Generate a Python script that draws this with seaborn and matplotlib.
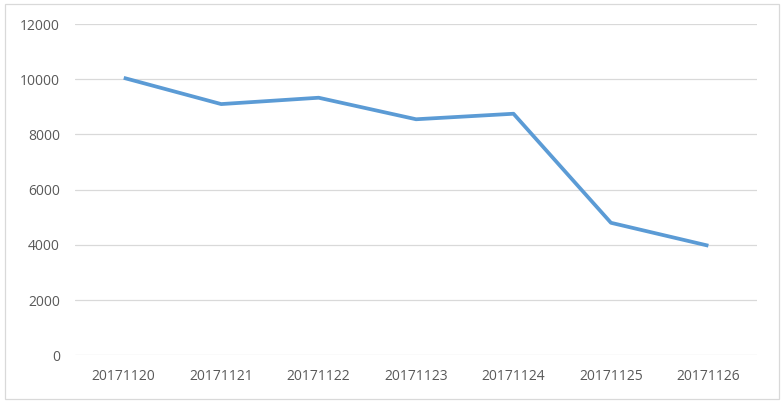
import matplotlib
matplotlib.use("Agg")
import matplotlib.pyplot as plt
from matplotlib.patches import Rectangle
import pandas as pd
import seaborn as sns

dates = ["20171120", "20171121", "20171122", "20171123", "20171124", "20171125", "20171126"]
values = [10050, 9100, 9330, 8550, 8750, 4800, 3970]
y_ticks = [0, 2000, 4000, 6000, 8000, 10000, 12000]

df = pd.DataFrame({"date": dates, "value": values})

sns.set_theme(style="white")
plt.rcParams["font.family"] = ["Open Sans", "DejaVu Sans"]

fig = plt.figure(figsize=(7.84, 4.05), dpi=100)
ax = fig.add_axes([0.0957, 0.1227, 0.87, 0.818])

sns.lineplot(data=df, x="date", y="value", ax=ax, color="#5B9BD5",
             linewidth=2.7, sort=False, solid_capstyle="butt")

ax.set_ylim(0, 12000)
ax.set_xlim(-0.5, len(dates) - 0.5)
ax.set_yticks(y_ticks)
ax.set_yticklabels([str(t) for t in y_ticks])
ax.yaxis.grid(True, color="#D9D9D9", linewidth=0.9)
ax.set_axisbelow(True)
for s in ax.spines.values():
    s.set_visible(False)
ax.tick_params(axis="both", length=0, labelsize=10, colors="#595959")
ax.tick_params(axis="y", pad=11)
ax.tick_params(axis="x", pad=10)
ax.set_xlabel("")
ax.set_ylabel("")

# chart border like the Excel frame
fig.patches.append(Rectangle((5 / 784, 6 / 405), 774 / 784, 395 / 405, transform=fig.transFigure,
                             fill=False, edgecolor="#D9D9D9", linewidth=0.9))

fig.savefig("out.png", dpi=100)
